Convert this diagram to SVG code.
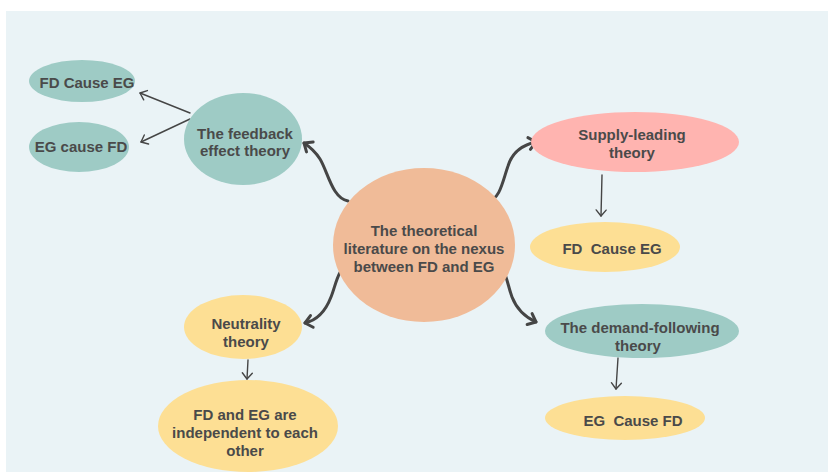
<svg xmlns="http://www.w3.org/2000/svg" width="828" height="472" viewBox="0 0 828 472">
<defs>
<style>
.t{font-family:"Liberation Sans",Arial,sans-serif;font-weight:bold;font-size:15px;fill:#4a4a4a;text-anchor:middle;dominant-baseline:central}
.pre{white-space:pre}
.teal{fill:#9ecbc5}
.yel{fill:#fddf94}
.pink{fill:#ffb4b0}
.peach{fill:#f0bb98}
.thick{fill:none;stroke:#454545;stroke-width:3;stroke-linecap:round}
.thin{fill:none;stroke:#454545;stroke-width:1.4;stroke-linecap:round}
</style>
<marker id="big" markerUnits="userSpaceOnUse" markerWidth="16" markerHeight="16" refX="10" refY="8" orient="auto" viewBox="0 0 16 16">
<path d="M3,2 L10,8 L3,14" fill="none" stroke="#454545" stroke-width="3" stroke-linecap="round" stroke-linejoin="round"/>
</marker>
<marker id="sm" markerUnits="userSpaceOnUse" markerWidth="14" markerHeight="14" refX="9" refY="7" orient="auto" viewBox="0 0 14 14">
<path d="M3,2 L9,7 L3,12" fill="none" stroke="#454545" stroke-width="1.4" stroke-linecap="round" stroke-linejoin="round"/>
</marker>
</defs>
<rect x="0" y="0" width="828" height="472" fill="#ffffff"/>
<rect x="6" y="11" width="822" height="461" fill="#eaf3f6"/>

<g id="connectors">
<path class="thick" marker-end="url(#big)" d="M348,201 C332,198 328,172 320,159 C315,151 310,147 304,143"/>
<path class="thick" marker-end="url(#big)" d="M488,201 C500,200 503,180 508,166 C512,153 522,145 536,142"/>
<path class="thick" marker-end="url(#big)" d="M494,262 C505,262 507,284 512,297 C517,310 525,317 536,322"/>
<path class="thick" marker-end="url(#big)" d="M350,265 C338,266 336,285 331,297 C326,310 318,320 305,323"/>
<path class="thin" marker-end="url(#sm)" d="M190,113 L140,93"/>
<path class="thin" marker-end="url(#sm)" d="M190,119 L141,142"/>
<path class="thin" marker-end="url(#sm)" d="M602,175 L601,216"/>
<path class="thin" marker-end="url(#sm)" d="M618,358 L616,389"/>
<path class="thin" marker-end="url(#sm)" d="M248,360 L247,379"/>
</g>

<g id="center">
<ellipse class="peach" cx="424" cy="245" rx="91" ry="77"/>
<text class="t" x="424" y="230">The theoretical</text>
<text class="t" x="424" y="248">literature on the nexus</text>
<text class="t" x="424" y="266">between FD and EG</text>
</g>

<g id="feedback">
<ellipse class="teal" cx="243" cy="139" rx="59" ry="46"/>
<text class="t" x="245" y="133">The feedback</text>
<text class="t" x="245" y="150">effect theory</text>
</g>

<g id="fb-fdcauseeg">
<ellipse class="teal" cx="82" cy="81" rx="53" ry="21"/>
<text class="t" x="87" y="82">FD Cause EG</text>
</g>

<g id="fb-egcausefd">
<ellipse class="teal" cx="79" cy="147" rx="50" ry="25"/>
<text class="t" x="81" y="146">EG cause FD</text>
</g>

<g id="supply">
<ellipse class="pink" cx="635" cy="142" rx="104" ry="30"/>
<text class="t" x="632" y="134">Supply-leading</text>
<text class="t" x="632" y="152">theory</text>
</g>

<g id="supply-result">
<ellipse class="yel" cx="605" cy="247" rx="75" ry="25"/>
<text class="t pre" x="612" y="248">FD  Cause EG</text>
</g>

<g id="demand">
<ellipse class="teal" cx="642" cy="331" rx="97" ry="27"/>
<text class="t" x="640" y="327">The demand-following</text>
<text class="t" x="638" y="345">theory</text>
</g>

<g id="demand-result">
<ellipse class="yel" cx="625" cy="418" rx="80" ry="22"/>
<text class="t pre" x="633" y="420">EG  Cause FD</text>
</g>

<g id="neutrality">
<ellipse class="yel" cx="243" cy="327" rx="59" ry="32"/>
<text class="t" x="246" y="323">Neutrality</text>
<text class="t" x="246" y="341">theory</text>
</g>

<g id="neutrality-result">
<ellipse class="yel" cx="248" cy="426" rx="90" ry="46"/>
<text class="t" x="245" y="414">FD and EG are</text>
<text class="t" x="245" y="432">independent to each</text>
<text class="t" x="245" y="450">other</text>
</g>
</svg>
